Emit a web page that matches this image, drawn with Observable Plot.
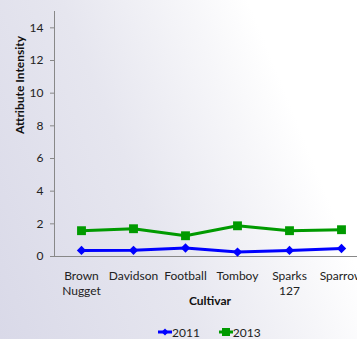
<!DOCTYPE html>
<html>
<head>
<meta charset="utf-8">
<script src="https://cdn.jsdelivr.net/npm/d3@7"></script>
<script src="https://cdn.jsdelivr.net/npm/@observablehq/plot@0.6"></script>
<style>
  html, body { margin: 0; padding: 0; }
  body {
    position: relative;
    width: 357px; height: 339px; overflow: hidden;
    background: linear-gradient(68deg, #d9d9e8 0%, #e6e6ef 40%, #f6f6f9 65%, #ffffff 78%);
    font-family: Lato, "Open Sans", sans-serif;
  }
  #chart svg { display: block; }
  #legend { position: absolute; left: 158px; top: 324px; height: 16px; display: flex; align-items: center; font-size: 12px; color: #222; }
  #legend .item { display: flex; align-items: center; margin-right: 19px; }
  #legend svg { display: block; }
</style>
</head>
<body>
<div id="chart"></div>
<div id="legend"></div>
<script>
const cultivars = ["Brown Nugget", "Davidson", "Football", "Tomboy", "Sparks 127", "Sparrow"];
const tickLabels = ["Brown\nNugget", "Davidson", "Football", "Tomboy", "Sparks\n127", "Sparrow"];
const series = ["2011", "2013"];
const values2011 = [0.37, 0.38, 0.52, 0.27, 0.37, 0.49];
const values2013 = [1.58, 1.70, 1.27, 1.88, 1.58, 1.64];
const yTicks = [0, 2, 4, 6, 8, 10, 12, 14];
const colors = {"2011": "#0000ff", "2013": "#009a00"};

const data = [];
cultivars.forEach((c, i) => {
  data.push({cultivar: c, year: "2011", value: values2011[i]});
  data.push({cultivar: c, year: "2013", value: values2013[i]});
});
const d2011 = data.filter(d => d.year === "2011");
const d2013 = data.filter(d => d.year === "2013");

const chart = Plot.plot({
  width: 357,
  height: 316,
  marginLeft: 54,
  marginRight: 0,
  marginTop: 11,
  marginBottom: 60,
  style: {background: "transparent", fontFamily: "Lato, 'Open Sans', sans-serif", fontSize: "12px", color: "#222"},
  x: {type: "point", domain: cultivars, range: [54, 368], padding: 0.5},
  y: {domain: [0, 15]},
  marks: [
    Plot.frame({anchor: "left", stroke: "#888"}),
    Plot.ruleY([0], {stroke: "#888"}),
    Plot.axisY({ticks: yTicks, tickSize: 4, tickPadding: 7, stroke: "#888", label: null}),
    Plot.axisX({tickSize: 0, tickPadding: 12, tickFormat: d => tickLabels[cultivars.indexOf(d)], label: null, lineHeight: 1.3}),
    Plot.text(["Cultivar"], {frameAnchor: "bottom", dx: 4, dy: 48, fontWeight: "bold", fontSize: 12, fill: "#111"}),
    Plot.text(["Attribute Intensity"], {frameAnchor: "left", dx: -34, dy: 0, rotate: -90, fontWeight: "bold", fontSize: 12, fill: "#111"}),
    Plot.lineY(d2013, {x: "cultivar", y: "value", stroke: colors["2013"], strokeWidth: 3}),
    Plot.dot(d2013, {x: "cultivar", y: "value", symbol: "square", r: 5, fill: colors["2013"]}),
    Plot.lineY(d2011, {x: "cultivar", y: "value", stroke: colors["2011"], strokeWidth: 3}),
    Plot.dot(d2011, {x: "cultivar", y: "value", symbol: "diamond2", r: 4.2, fill: colors["2011"]})
  ]
});
document.getElementById("chart").append(chart);

// legend
const legend = document.getElementById("legend");
series.forEach(s => {
  const item = document.createElement("div");
  item.className = "item";
  const sym = s === "2011"
    ? `<svg width="14" height="10"><line x1="0" y1="5" x2="14" y2="5" stroke="${colors[s]}" stroke-width="3"/><path d="M7,1.5L10.5,5L7,8.5L3.5,5Z" fill="${colors[s]}"/></svg>`
    : `<svg width="14" height="10"><line x1="0" y1="5" x2="14" y2="5" stroke="${colors[s]}" stroke-width="3"/><rect x="3" y="1" width="8" height="8" fill="${colors[s]}"/></svg>`;
  item.innerHTML = sym + `<span>${s}</span>`;
  legend.append(item);
});
</script>
</body>
</html>
